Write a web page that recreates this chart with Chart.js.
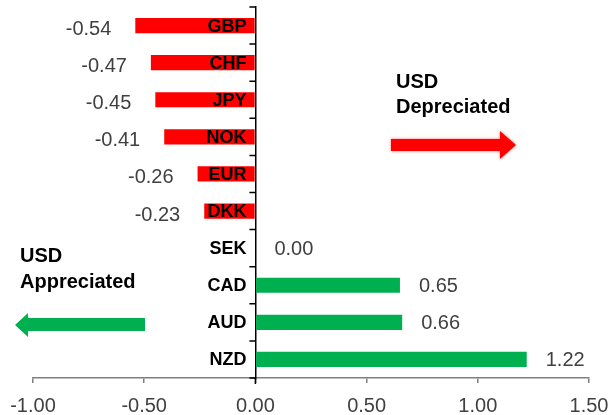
<!DOCTYPE html>
<html>
<head>
<meta charset="utf-8">
<script src="https://cdn.jsdelivr.net/npm/chart.js@4"></script>
<style>
  html, body { margin: 0; padding: 0; background: #fff; }
  #wrap { width: 611px; height: 415px; }
</style>
</head>
<body>
<div id="wrap"><canvas id="fx"></canvas></div>
<script>
const currencies = ['GBP', 'CHF', 'JPY', 'NOK', 'EUR', 'DKK', 'SEK', 'CAD', 'AUD', 'NZD'];
const changes = [-0.54, -0.47, -0.45, -0.41, -0.26, -0.23, 0.00, 0.65, 0.66, 1.22];
const xTicks = [-1.0, -0.5, 0, 0.5, 1.0, 1.5];

const FONT = 'Arial, "Liberation Sans", sans-serif';
const RED = '#ff0000';
const GREEN = '#00b050';

// category ticks + labels on the zero axis, value labels, the two USD arrows
const extras = {
    id: 'extras',
    afterDatasetsDraw(chart) {
        const ctx = chart.ctx;
        const meta = chart.getDatasetMeta(0);
        const xs = chart.scales.x;
        const ys = chart.scales.y;
        const x0 = xs.getPixelForValue(0);
        ctx.save();

        ctx.strokeStyle = '#000';
        ctx.lineWidth = 1.5;
        ctx.beginPath();
        for (let i = 0; i <= currencies.length; i++) {
            const y = ys.top + (ys.bottom - ys.top) * i / currencies.length;
            ctx.moveTo(x0 - 6, y);
            ctx.lineTo(x0, y);
        }
        ctx.moveTo(x0, xs.top);
        ctx.lineTo(x0, xs.top + 6);
        ctx.stroke();

        ctx.font = 'bold 18px ' + FONT;
        ctx.fillStyle = '#000';
        ctx.textAlign = 'right';
        ctx.textBaseline = 'middle';
        currencies.forEach((c, i) => {
            ctx.fillText(c, x0 - 9, ys.getPixelForValue(i) + 1);
        });

        ctx.font = '20px ' + FONT;
        ctx.fillStyle = '#404040';
        meta.data.forEach((bar, i) => {
            const v = changes[i];
            if (v < 0) {
                ctx.textAlign = 'right';
                ctx.fillText(v.toFixed(2), bar.x - 24, bar.y + 4);
            } else {
                ctx.textAlign = 'left';
                ctx.fillText(v.toFixed(2), bar.x + 19, bar.y + 1);
            }
        });

        ctx.fillStyle = '#000';
        ctx.font = 'bold 20px ' + FONT;
        ctx.textAlign = 'left';
        ctx.textBaseline = 'alphabetic';
        ctx.fillText('USD', 396, 88);
        ctx.fillText('Depreciated', 396, 113);
        ctx.fillText('USD', 20, 262);
        ctx.fillText('Appreciated', 20, 288);

        // red arrow (right)
        ctx.fillStyle = RED;
        ctx.shadowColor = 'rgba(255,0,0,0.6)';
        ctx.shadowBlur = 3;
        ctx.beginPath();
        ctx.moveTo(391, 139);
        ctx.lineTo(500, 139);
        ctx.lineTo(500, 131);
        ctx.lineTo(516, 145);
        ctx.lineTo(500, 159);
        ctx.lineTo(500, 151);
        ctx.lineTo(391, 151);
        ctx.closePath();
        ctx.fill();

        // green arrow (left)
        ctx.shadowBlur = 0;
        ctx.fillStyle = GREEN;
        ctx.beginPath();
        ctx.moveTo(145, 318);
        ctx.lineTo(28, 318);
        ctx.lineTo(28, 313);
        ctx.lineTo(15, 325);
        ctx.lineTo(28, 337);
        ctx.lineTo(28, 331);
        ctx.lineTo(145, 331);
        ctx.closePath();
        ctx.fill();
        ctx.restore();
    }
};

new Chart(document.getElementById('fx').getContext('2d'), {
    type: 'bar',
    data: {
        labels: currencies,
        datasets: [{
            data: changes,
            backgroundColor: changes.map(v => v < 0 ? RED : GREEN),
            borderWidth: 0,
            categoryPercentage: 1.0,
            barPercentage: 0.41,
        }],
    },
    options: {
        indexAxis: 'y',
        responsive: true,
        maintainAspectRatio: false,
        animation: false,
        layout: { padding: { top: 7, left: 33, right: 22, bottom: 0 } },
        plugins: {
            legend: { display: false },
            tooltip: { enabled: false },
        },
        scales: {
            x: {
                min: -1,
                max: 1.5,
                afterBuildTicks: (s) => { s.ticks = xTicks.map(v => ({ value: v })); },
                afterFit: (s) => { s.height = 37; s.paddingLeft = 0; s.paddingRight = 0; },
                grid: { drawOnChartArea: false, tickLength: 5, color: '#7f7f7f', lineWidth: 1.5 },
                border: { color: '#7f7f7f', width: 1.5 },
                ticks: {
                    padding: 11,
                    color: '#404040',
                    font: { family: FONT, size: 20 },
                    callback: (v) => Number(v).toFixed(2),
                },
            },
            y: {
                position: { x: 0 },
                afterFit: (s) => { s.paddingTop = 0; s.paddingBottom = 0; },
                grid: { display: false },
                border: { color: '#000', width: 1.5 },
                ticks: { display: false },
            },
        },
    },
    plugins: [extras],
});
</script>
</body>
</html>
